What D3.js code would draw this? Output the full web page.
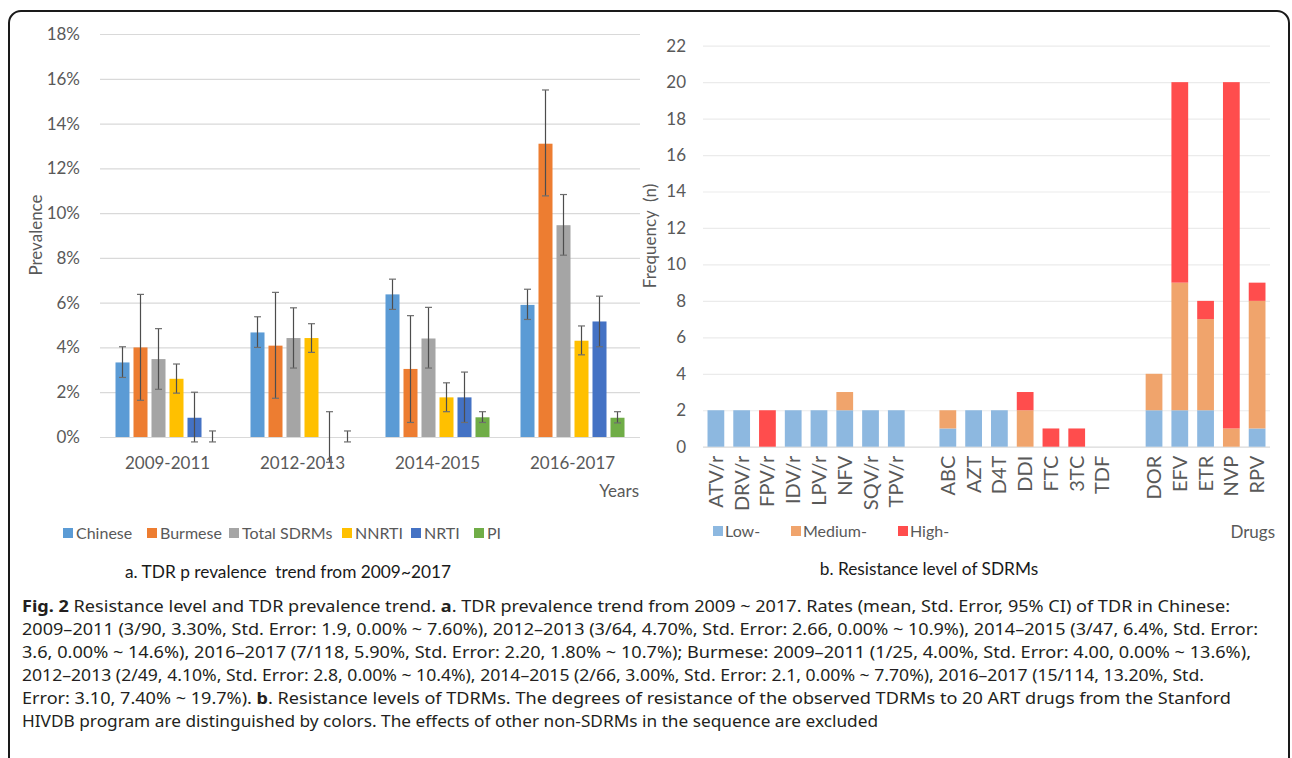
<!DOCTYPE html>
<html>
<head>
<meta charset="utf-8">
<script src="https://cdn.jsdelivr.net/npm/d3@7"></script>
<style>
  body { margin: 0; background: #fff; }
  svg { display: block; font-family: Lato, 'Open Sans', sans-serif; }
</style>
</head>
<body>
<svg id="fig" width="1292" height="758"></svg>
<script>
// ---- panel a data ----
const periods = ['2009-2011', '2012-2013', '2014-2015', '2016-2017'];
const groups = ['Chinese', 'Burmese', 'Total SDRMs', 'NNRTI', 'NRTI', 'PI'];
const groupColors = ['#5B9BD5', '#ED7D31', '#A5A5A5', '#FFC000', '#4472C4', '#70AD47'];

const chinese = [3.33, 4.67, 6.37, 5.9];
const burmese = [4.0, 4.08, 3.04, 13.1];
const totalSDRMs = [3.48, 4.42, 4.4, 9.46];
const nnrti = [2.6, 4.42, 1.77, 4.3];
const nrti = [0.86, 0, 1.77, 5.16];
const pi = [0, 0, 0.88, 0.86];

// error bar ends [low, high]
const chineseCI = [[2.66, 4.03], [4.0, 5.37], [5.7, 7.05], [5.25, 6.6]];
const burmeseCI = [[1.64, 6.37], [1.73, 6.46], [0.65, 5.42], [10.77, 15.5]];
const totalCI = [[2.13, 4.84], [3.08, 5.77], [3.08, 5.79], [8.12, 10.83]];
const nnrtiCI = [[1.96, 3.26], [3.78, 5.06], [1.13, 2.42], [3.67, 4.96]];
const nrtiCI = [[-0.22, 2.0], [-1.13, 1.13], [0.65, 2.9], [4.03, 6.29]];
const piCI = [[-0.22, 0.27], [-0.22, 0.27], [0.65, 1.13], [0.63, 1.13]];

const prevTicks = [0, 2, 4, 6, 8, 10, 12, 14, 16, 18];

// ---- panel b data ----
const drugs = ['ATV/r', 'DRV/r', 'FPV/r', 'IDV/r', 'LPV/r', 'NFV', 'SQV/r', 'TPV/r', '',
  'ABC', 'AZT', 'D4T', 'DDI', 'FTC', '3TC', 'TDF', '',
  'DOR', 'EFV', 'ETR', 'NVP', 'RPV'];
const lowRes =    [2, 2, 0, 2, 2, 2, 2, 2, 0, 1, 2, 2, 0, 0, 0, 0, 0, 2, 2, 2, 0, 1];
const mediumRes = [0, 0, 0, 0, 0, 1, 0, 0, 0, 1, 0, 0, 2, 0, 0, 0, 0, 2, 7, 5, 1, 7];
const highRes =   [0, 0, 2, 0, 0, 0, 0, 0, 0, 0, 0, 0, 1, 1, 1, 0, 0, 0, 11, 1, 19, 1];
const levels = ['Low-', 'Medium-', 'High-'];
const levelColors = ['#8DB8E0', '#F0A46C', '#FF4D4D'];
const freqTicks = [0, 2, 4, 6, 8, 10, 12, 14, 16, 18, 20, 22];

const textGrey = '#595959';
const gridGrey = '#d9d9d9';

const svg = d3.select('#fig');

// frame
svg.append('rect')
    .attr('x', 9).attr('y', 11)
    .attr('width', 1280).attr('height', 780)
    .attr('rx', 12)
    .attr('fill', 'none')
    .attr('stroke', '#1a1a1a')
    .attr('stroke-width', 2);

// ================= panel a =================
function drawPanelA() {
    const left = 100, right = 640, top = 34, bottom = 437;
    const g = svg.append('g');

    const series = [chinese, burmese, totalSDRMs, nnrti, nrti, pi];
    const cis = [chineseCI, burmeseCI, totalCI, nnrtiCI, nrtiCI, piCI];

    const yScale = d3.scaleLinear().domain([0, 18]).range([bottom, top]);
    const x0 = d3.scaleBand().domain(periods).range([left, right])
        .paddingInner(0.2).paddingOuter(0.1);
    const x1 = d3.scaleBand().domain(groups).range([0, x0.bandwidth()])
        .paddingInner(0.222).paddingOuter(0.111);

    // y axis + grid
    const yAxis = g.append('g')
        .attr('transform', `translate(${left},0)`)
        .call(d3.axisLeft(yScale).tickValues(prevTicks).tickSize(-(right - left))
            .tickPadding(20).tickFormat(d => d + '%'));
    yAxis.select('.domain').remove();
    yAxis.selectAll('line').attr('stroke', gridGrey).attr('stroke-width', 1.2);
    yAxis.selectAll('text').attr('fill', textGrey).style('font-size', '17px')
        .style('font-family', 'Lato, sans-serif');

    // bars
    const rows = [];
    periods.forEach((p, i) => {
        groups.forEach((s, j) => {
            rows.push({period: p, group: s, value: series[j][i], lo: cis[j][i][0], hi: cis[j][i][1], color: groupColors[j]});
        });
    });

    g.selectAll('.bar')
        .data(rows)
        .enter()
        .append('rect')
        .attr('class', 'bar')
        .attr('x', d => x0(d.period) + x1(d.group))
        .attr('width', x1.bandwidth())
        .attr('y', d => yScale(d.value))
        .attr('height', d => yScale(0) - yScale(d.value))
        .attr('fill', d => d.color);

    // error bars
    const eb = g.selectAll('.err')
        .data(rows)
        .enter()
        .append('g')
        .attr('class', 'err')
        .attr('transform', d => `translate(${x0(d.period) + x1(d.group) + x1.bandwidth() / 2},0)`);
    eb.append('line')
        .attr('y1', d => yScale(d.lo)).attr('y2', d => yScale(d.hi))
        .attr('stroke', '#4d4d4d').attr('stroke-width', 1.2);
    eb.selectAll('.cap')
        .data(d => [d.lo, d.hi])
        .enter()
        .append('line')
        .attr('x1', -3.5).attr('x2', 3.5)
        .attr('y1', d => yScale(d)).attr('y2', d => yScale(d))
        .attr('stroke', '#6e6e6e').attr('stroke-width', 1.2);

    // x labels
    const xAxis = g.append('g')
        .attr('transform', `translate(0,${bottom})`)
        .call(d3.axisBottom(x0).tickSize(0).tickPadding(20));
    xAxis.select('.domain').remove();
    xAxis.selectAll('text').attr('fill', textGrey).style('font-size', '17px')
        .style('font-family', 'Lato, sans-serif');

    g.append('text')
        .attr('transform', `translate(42,235) rotate(-90)`)
        .attr('text-anchor', 'middle')
        .attr('fill', textGrey)
        .style('font-size', '17px')
        .text('Prevalence');

    g.append('text')
        .attr('x', 639).attr('y', 497)
        .attr('text-anchor', 'end')
        .attr('fill', textGrey)
        .style('font-size', '17px')
        .text('Years');

    // legend
    const legX = [63, 147, 229, 342, 411, 474];
    const leg = g.selectAll('.leg')
        .data(groups)
        .enter()
        .append('g')
        .attr('transform', (d, i) => `translate(${legX[i]},528)`);
    leg.append('rect').attr('width', 10).attr('height', 10)
        .attr('fill', (d, i) => groupColors[i]);
    leg.append('text').attr('x', 13).attr('y', 11)
        .attr('fill', textGrey).style('font-size', '16px')
        .text(d => d);

    g.append('text')
        .attr('x', 288).attr('y', 578)
        .attr('text-anchor', 'middle')
        .attr('fill', '#1a1a1a')
        .style('font-size', '17.3px')
        .attr('xml:space', 'preserve')
        .text('a. TDR p revalence  trend from 2009~2017');
}

// ================= panel b =================
function drawPanelB() {
    const left = 703, right = 1270, top = 45.7, bottom = 446.7;
    const g = svg.append('g');

    const yScale = d3.scaleLinear().domain([0, 22]).range([bottom, top]);
    const xScale = d3.scaleBand().domain(d3.range(drugs.length)).range([left, right])
        .paddingInner(0.35).paddingOuter(0.175);

    const yAxis = g.append('g')
        .attr('transform', `translate(${left},0)`)
        .call(d3.axisLeft(yScale).tickValues(freqTicks).tickSize(-(right - left)).tickPadding(17));
    yAxis.select('.domain').remove();
    yAxis.selectAll('line').attr('stroke', '#ebebeb').attr('stroke-width', 1.2);
    yAxis.selectAll('.tick').filter(d => d === 0).select('line').attr('stroke', gridGrey);
    yAxis.selectAll('text').attr('fill', textGrey).style('font-size', '17px')
        .style('font-family', 'Lato, sans-serif');

    const table = drugs.map((d, i) => ({idx: i, low: lowRes[i], medium: mediumRes[i], high: highRes[i]}));
    const stack = d3.stack().keys(['low', 'medium', 'high']);
    const stacked = stack(table);

    g.selectAll('.series')
        .data(stacked)
        .enter()
        .append('g')
        .attr('fill', (d, i) => levelColors[i])
        .selectAll('rect')
        .data(d => d.filter(v => v[1] > v[0]))
        .enter()
        .append('rect')
        .attr('x', d => xScale(d.data.idx))
        .attr('width', xScale.bandwidth())
        .attr('y', d => yScale(d[1]))
        .attr('height', d => yScale(d[0]) - yScale(d[1]));

    const xAxis = g.append('g')
        .attr('transform', `translate(0,${bottom})`)
        .call(d3.axisBottom(xScale).tickSize(0).tickPadding(0).tickFormat(i => drugs[i]));
    xAxis.select('.domain').remove();
    xAxis.selectAll('text')
        .attr('y', 0).attr('x', -9).attr('dy', '0.35em')
        .attr('transform', 'rotate(-90)')
        .attr('text-anchor', 'end')
        .attr('fill', textGrey)
        .style('font-size', '20px')
        .style('font-family', 'Lato, sans-serif');

    g.append('text')
        .attr('transform', `translate(656,236) rotate(-90)`)
        .attr('text-anchor', 'middle')
        .attr('fill', textGrey)
        .style('font-size', '17px')
        .attr('xml:space', 'preserve')
        .text('Frequency  (n)');

    g.append('text')
        .attr('x', 1275).attr('y', 538)
        .attr('text-anchor', 'end')
        .attr('fill', textGrey)
        .style('font-size', '17px')
        .text('Drugs');

    const legX = [713, 791, 898];
    const leg = g.selectAll('.legb')
        .data(levels)
        .enter()
        .append('g')
        .attr('transform', (d, i) => `translate(${legX[i]},526)`);
    leg.append('rect').attr('width', 10).attr('height', 10)
        .attr('fill', (d, i) => levelColors[i]);
    leg.append('text').attr('x', 12).attr('y', 11)
        .attr('fill', textGrey).style('font-size', '16px')
        .text(d => d);

    g.append('text')
        .attr('x', 929).attr('y', 575)
        .attr('text-anchor', 'middle')
        .attr('fill', '#1a1a1a')
        .style('font-size', '17.3px')
        .text('b. Resistance level of SDRMs');
}

// ================= caption =================
function drawCaption() {
    const lines = [
        [['Fig. 2', true], [' Resistance level and TDR prevalence trend. ', false], ['a', true],
         ['. TDR prevalence trend from 2009 ~ 2017. Rates (mean, Std. Error, 95% CI) of TDR in Chinese:', false]],
        [['2009–2011 (3/90, 3.30%, Std. Error: 1.9, 0.00% ~ 7.60%), 2012–2013 (3/64, 4.70%, Std. Error: 2.66, 0.00% ~ 10.9%), 2014–2015 (3/47, 6.4%, Std. Error:', false]],
        [['3.6, 0.00% ~ 14.6%), 2016–2017 (7/118, 5.90%, Std. Error: 2.20, 1.80% ~ 10.7%); Burmese: 2009–2011 (1/25, 4.00%, Std. Error: 4.00, 0.00% ~ 13.6%),', false]],
        [['2012–2013 (2/49, 4.10%, Std. Error: 2.8, 0.00% ~ 10.4%), 2014–2015 (2/66, 3.00%, Std. Error: 2.1, 0.00% ~ 7.70%), 2016–2017 (15/114, 13.20%, Std.', false]],
        [['Error: 3.10, 7.40% ~ 19.7%). ', false], ['b', true],
         ['. Resistance levels of TDRMs. The degrees of resistance of the observed TDRMs to 20 ART drugs from the Stanford', false]],
        [['HIVDB program are distinguished by colors. The effects of other non-SDRMs in the sequence are excluded', false]]
    ];
    const lineEnds = [1230, 1258, 1251, 1204, 1231, 878];
    const startX = 22;

    const cap = svg.append('g')
        .style('font-family', "'Noto Sans', 'Open Sans', sans-serif")
        .style('font-size', '16px')
        .attr('fill', '#231f20');

    lines.forEach((parts, i) => {
        const t = cap.append('text')
            .attr('x', startX)
            .attr('y', 612 + i * 23)
            .attr('xml:space', 'preserve')
            .attr('textLength', lineEnds[i] - startX)
            .attr('lengthAdjust', 'spacingAndGlyphs');
        parts.forEach(p => {
            t.append('tspan')
                .style('font-weight', p[1] ? 'bold' : 'normal')
                .text(p[0]);
        });
    });
}

drawPanelA();
drawPanelB();
drawCaption();
</script>
</body>
</html>
